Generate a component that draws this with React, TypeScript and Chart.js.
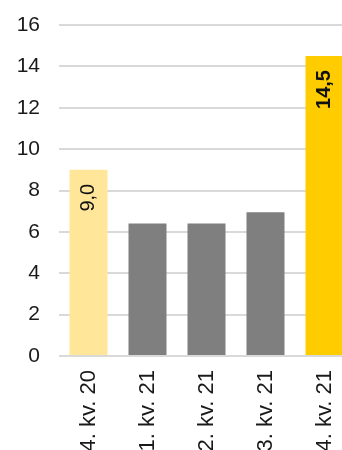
import React, { useEffect, useRef } from "react";
import { Chart, registerables } from "chart.js";

Chart.register(...registerables);

const categories = ["4. kv. 20", "1. kv. 21", "2. kv. 21", "3. kv. 21", "4. kv. 21"];
const values = [9.0, 6.4, 6.4, 6.95, 14.5];
const barColors = ["#FFE699", "#7F7F7F", "#7F7F7F", "#7F7F7F", "#FFCC00"];
const valueLabels = ["9,0", "", "", "", "14,5"];
const valueLabelBold = [false, false, false, false, true];
const yTicks = [0, 2, 4, 6, 8, 10, 12, 14, 16];

const FONT = "'Liberation Sans', Arial, sans-serif";
const CANVAS_W = 354;
const CANVAS_H = 470;

const valueLabelPlugin = {
  id: "valueLabels",
  afterDatasetsDraw(chart: any) {
    const ctx = chart.ctx;
    const meta = chart.getDatasetMeta(0);
    meta.data.forEach((bar: any, i: number) => {
      const text = valueLabels[i];
      if (!text) return;
      ctx.save();
      ctx.translate(bar.x, bar.y + 14);
      ctx.rotate(-Math.PI / 2);
      ctx.font = `${valueLabelBold[i] ? "bold " : ""}20px ${FONT}`;
      ctx.fillStyle = "#111111";
      ctx.textAlign = "right";
      ctx.textBaseline = "middle";
      ctx.fillText(text, 0, 0);
      ctx.restore();
    });
  },
};

export default function App() {
  const ref = useRef<HTMLCanvasElement>(null);
  useEffect(() => {
    document.body.style.margin = "0";
    const chart = new Chart(ref.current!, {
      type: "bar",
      data: {
        labels: categories,
        datasets: [
          {
            data: values,
            backgroundColor: barColors,
            categoryPercentage: 1,
            barPercentage: 0.644,
          },
        ],
      },
      options: {
        responsive: false,
        animation: false,
        layout: { padding: { left: 0, top: 25, right: 0, bottom: 0 } },
        plugins: { legend: { display: false }, tooltip: { enabled: false } },
        scales: {
          x: {
            grid: { display: false },
            border: { display: false },
            afterFit: (axis: any) => {
              axis.paddingLeft = 0;
              axis.paddingRight = 0;
              axis.height = CANVAS_H - 25 - 331;
            },
            ticks: {
              minRotation: 90,
              maxRotation: 90,
              autoSkip: false,
              padding: 6,
              color: "#1A1A1A",
              font: { family: FONT, size: 22 },
            },
          },
          y: {
            min: 0,
            max: 16,
            afterBuildTicks: (axis: any) => {
              axis.ticks = yTicks.map((v) => ({ value: v }));
            },
            afterFit: (axis: any) => {
              axis.width = 59;
              axis.paddingTop = 0;
              axis.paddingBottom = 0;
            },
            grid: { color: "#D9D9D9", lineWidth: 2, drawTicks: false },
            border: { display: false },
            ticks: {
              padding: 19,
              color: "#1A1A1A",
              font: { family: FONT, size: 21 },
            },
          },
        },
      },
      plugins: [valueLabelPlugin],
    });
    return () => chart.destroy();
  }, []);
  return (
    <div style={{ width: 342, height: 450, overflow: "hidden", position: "relative" }}>
      <canvas ref={ref} width={CANVAS_W} height={CANVAS_H} style={{ display: "block" }} />
    </div>
  );
}
